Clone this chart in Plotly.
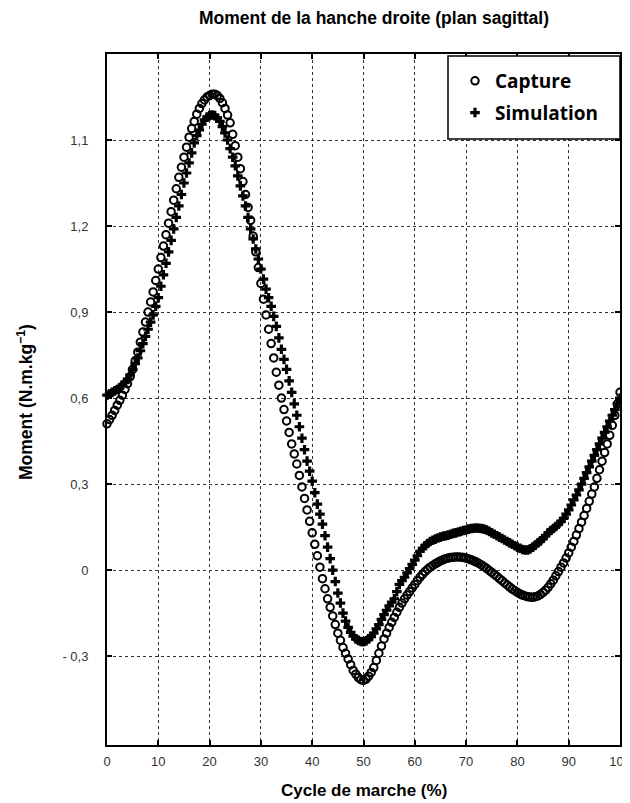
import plotly.graph_objects as go

# Gait cycle sampling (%), every 0.5 %
cycle = [i * 0.5 for i in range(201)]

capture = [
    0.51, 0.525, 0.54, 0.557, 0.575, 0.592, 0.61, 0.63, 0.65, 0.675,
    0.70, 0.73, 0.76, 0.795, 0.83, 0.865, 0.90, 0.935, 0.97, 1.01,
    1.05, 1.09, 1.13, 1.17, 1.21, 1.25, 1.29, 1.33, 1.37, 1.405,
    1.44, 1.475, 1.51, 1.54, 1.565, 1.59, 1.61, 1.627, 1.64, 1.65,
    1.655, 1.66, 1.66, 1.655, 1.645, 1.63, 1.61, 1.587, 1.56, 1.52,
    1.48, 1.44, 1.40, 1.355, 1.31, 1.265, 1.22, 1.165, 1.11, 1.055,
    1.00, 0.945, 0.89, 0.84, 0.79, 0.74, 0.69, 0.645, 0.60, 0.56,
    0.52, 0.48, 0.44, 0.405, 0.37, 0.33, 0.29, 0.25, 0.21, 0.17,
    0.13, 0.09, 0.05, 0.01, -0.03, -0.065, -0.10, -0.13, -0.16, -0.19,
    -0.22, -0.245, -0.27, -0.29, -0.31, -0.33, -0.35, -0.363, -0.375, -0.382,
    -0.385, -0.38, -0.37, -0.357, -0.34, -0.315, -0.29, -0.265, -0.24, -0.22,
    -0.20, -0.182, -0.165, -0.147, -0.13, -0.115, -0.10, -0.087, -0.075, -0.062,
    -0.05, -0.037, -0.025, -0.015, -0.005, 0.003, 0.01, 0.016, 0.022, 0.027,
    0.032, 0.036, 0.04, 0.042, 0.044, 0.045, 0.046, 0.046, 0.045, 0.044,
    0.042, 0.039, 0.036, 0.032, 0.028, 0.023, 0.018, 0.012, 0.006, -0.001,
    -0.008, -0.015, -0.022, -0.03, -0.037, -0.045, -0.052, -0.059, -0.066, -0.072,
    -0.078, -0.083, -0.087, -0.09, -0.093, -0.094, -0.095, -0.093, -0.09, -0.085,
    -0.078, -0.07, -0.06, -0.048, -0.035, -0.02, -0.005, 0.01, 0.025, 0.042,
    0.06, 0.08, 0.10, 0.122, 0.145, 0.167, 0.19, 0.215, 0.24, 0.265,
    0.29, 0.32, 0.35, 0.38, 0.41, 0.44, 0.47, 0.505, 0.54, 0.58,
    0.62,
]

simulation = [
    0.61, 0.615, 0.62, 0.625, 0.63, 0.637, 0.645, 0.655, 0.665, 0.68,
    0.70, 0.72, 0.74, 0.765, 0.79, 0.815, 0.84, 0.865, 0.89, 0.92,
    0.95, 0.99, 1.03, 1.07, 1.11, 1.15, 1.19, 1.23, 1.27, 1.31,
    1.35, 1.385, 1.42, 1.455, 1.49, 1.515, 1.535, 1.555, 1.57, 1.58,
    1.585, 1.587, 1.585, 1.577, 1.565, 1.547, 1.525, 1.50, 1.47, 1.44,
    1.41, 1.375, 1.34, 1.305, 1.27, 1.23, 1.19, 1.155, 1.12, 1.085,
    1.05, 1.015, 0.98, 0.95, 0.92, 0.885, 0.85, 0.81, 0.77, 0.735,
    0.70, 0.66, 0.62, 0.58, 0.54, 0.50, 0.46, 0.42, 0.38, 0.345,
    0.31, 0.27, 0.23, 0.195, 0.16, 0.12, 0.08, 0.04, 0.00, -0.04,
    -0.08, -0.115, -0.15, -0.178, -0.20, -0.217, -0.23, -0.24, -0.245, -0.249,
    -0.25, -0.247, -0.24, -0.232, -0.22, -0.205, -0.19, -0.172, -0.155, -0.14,
    -0.125, -0.112, -0.10, -0.075, -0.05, -0.037, -0.025, -0.01, 0.005, 0.02,
    0.035, 0.05, 0.065, 0.076, 0.085, 0.093, 0.10, 0.104, 0.108, 0.112,
    0.115, 0.118, 0.12, 0.122, 0.125, 0.128, 0.13, 0.133, 0.135, 0.138,
    0.14, 0.143, 0.145, 0.146, 0.147, 0.146, 0.145, 0.143, 0.14, 0.135,
    0.13, 0.125, 0.12, 0.115, 0.11, 0.105, 0.10, 0.095, 0.09, 0.085,
    0.08, 0.076, 0.072, 0.07, 0.07, 0.074, 0.08, 0.087, 0.095, 0.102,
    0.11, 0.12, 0.13, 0.138, 0.145, 0.152, 0.16, 0.17, 0.18, 0.195,
    0.21, 0.227, 0.245, 0.262, 0.28, 0.30, 0.32, 0.34, 0.36, 0.38,
    0.40, 0.42, 0.44, 0.46, 0.48, 0.50, 0.52, 0.54, 0.56, 0.58,
    0.60,
]

x_ticks = [0, 10, 20, 30, 40, 50, 60, 70, 80, 90, 100]
y_tickvals = [-0.3, 0, 0.3, 0.6, 0.9, 1.2, 1.5]
y_ticktext = ["- 0,3", "0", "0,3", "0,6", "0,9", "1,2", "1,1"]

# page offset of the figure (default body margin)
OFF = 8
W, H = 622, 795
L, R, T, B = 99, 10, 46, 58
pw, ph = W - L - R, H - T - B


def px_x(p):  # page x -> paper
    return (p - OFF - L) / pw


def px_y(p):  # page y -> paper
    return (H - B - (p - OFF)) / ph


fig = go.Figure()
fig.add_trace(go.Scatter(
    x=cycle, y=capture, mode="markers", name="<b>Capture</b>", legendgroup="a",
    marker=dict(symbol="circle-open", size=7.5, color="black", line=dict(width=2, color="black")),
    cliponaxis=False,
))
fig.add_trace(go.Scatter(
    x=cycle, y=simulation, mode="markers", name="<b>Simulation</b>", legendgroup="b",
    marker=dict(symbol="cross", size=8, color="black", line=dict(width=0)),
    cliponaxis=False,
))

# legend frame
fig.add_shape(type="rect", xref="paper", yref="paper",
              x0=px_x(448), x1=1.0, y0=px_y(139), y1=px_y(56),
              line=dict(color="black", width=1.5), fillcolor="white", layer="above")

fig.add_annotation(text="<b>Cycle de marche (%)</b>", xref="paper", yref="paper",
                   x=px_x(364), y=px_y(790), xanchor="center", yanchor="middle",
                   showarrow=False, font=dict(size=17, color="black"))
fig.add_annotation(text="<b>Moment (N.m.kg<sup>−1</sup>)</b>", xref="paper", yref="paper",
                   x=px_x(25), y=px_y(402), xanchor="center", yanchor="middle",
                   textangle=-90, showarrow=False, font=dict(size=17.5, color="black"))

fig.update_layout(
    width=W, height=H,
    margin=dict(l=L, r=R, t=T, b=B, autoexpand=False),
    paper_bgcolor="white", plot_bgcolor="white",
    font=dict(family="Liberation Sans, Arial, sans-serif", color="#222"),
    title=dict(text="<b>Moment de la hanche droite (plan sagittal)</b>",
               x=(374 - OFF) / W, xanchor="center", y=1 - (18 - OFF) / H, yanchor="middle",
               font=dict(size=17.5, color="black")),
    showlegend=True,
    legend=dict(x=px_x(455), xanchor="left", y=px_y(62), yanchor="top",
                bgcolor="rgba(0,0,0,0)", borderwidth=0,
                font=dict(family="Open Sans, sans-serif", size=19, color="black"),
                itemsizing="trace", tracegroupgap=4),
    xaxis=dict(range=[0, 100], tickvals=x_ticks, ticks="inside", ticklen=5, tickwidth=1.5,
               tickcolor="black", showline=True, linecolor="black", linewidth=2, mirror="ticks",
               showgrid=True, gridcolor="#333", griddash="dot", gridwidth=1,
               zeroline=False, tickfont=dict(size=13, color="#333"), ticklabelstandoff=3,
               ticklabeloverflow="allow"),
    yaxis=dict(range=[-0.61, 1.8], tickvals=y_tickvals, ticktext=y_ticktext, ticks="inside",
               ticklen=5, tickwidth=1.5, tickcolor="black", showline=True, linecolor="black",
               linewidth=2, mirror="ticks", showgrid=True, gridcolor="#333", griddash="dot",
               gridwidth=1, zeroline=False, tickfont=dict(size=13, color="#333"),
               ticklabelstandoff=14),
)

fig.write_html("out.html")
